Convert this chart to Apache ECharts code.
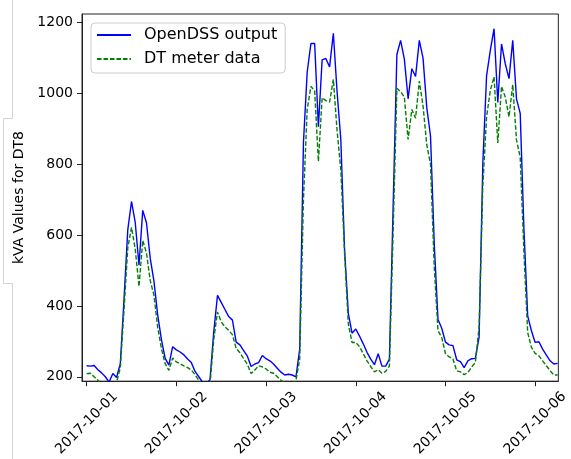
<!DOCTYPE html>
<html>
<head>
<meta charset="utf-8">
<script src="https://cdn.jsdelivr.net/npm/echarts@6/dist/echarts.min.js"></script>
<style>
html,body{margin:0;padding:0;background:#fff;}
#chart{width:571px;height:459px;}
</style>
</head>
<body>
<div id="chart"></div>
<script>
// Hourly samples starting 2017-10-01 00:00 (index = hours since start)
const openDSS = [
231,230,232,220,211,200,185,209,198,237,420,615,695,635,515,670,635,535,470,375,305,252,233,285,
276,270,262,250,240,215,200,185,180,192,326,430,410,390,370,360,298,290,274,258,229,236,240,260,
251,245,236,224,213,205,207,205,200,278,860,1060,1141,1141,906,1095,1099,1075,1170,1005,870,560,380,323,
335,315,293,269,250,234,265,230,230,250,680,1110,1150,1097,985,1070,1048,1150,1100,960,880,575,362,337,
298,290,288,248,243,226,245,251,252,312,803,1050,1122,1183,975,1140,1084,1042,1150,985,944,615,372,330,
297,299,278,261,245,236,238
];
const dtMeter = [
209,210,200,190,178,172,170,178,185,225,390,565,622,560,455,585,550,472,430,340,280,237,218,253,
242,237,231,226,219,206,190,175,172,178,305,383,355,341,331,319,280,268,251,235,209,219,231,228,
222,213,210,200,190,182,180,180,190,250,700,955,1020,1008,808,988,980,976,1040,895,785,550,350,297,
297,285,265,245,229,214,220,210,215,230,610,1015,1005,990,870,955,930,1035,965,855,800,510,330,311,
265,256,250,217,214,206,212,228,240,340,740,934,1009,1047,860,1020,990,934,1025,869,820,550,325,283,
266,259,245,231,217,205,205
];
const seriesNames = ['OpenDSS output', 'DT meter data'];
const xTickHours = [0, 24, 48, 72, 96, 120];
const xTickLabels = ['2017-10-01', '2017-10-02', '2017-10-03', '2017-10-04', '2017-10-05', '2017-10-06'];
const yTicks = [200, 400, 600, 800, 1000, 1200];
const yAxisTitle = 'kVA Values for DT8';

const FONT = 'DejaVu Sans';
const chart = echarts.init(document.getElementById('chart'), null, {renderer: 'canvas'});
chart.setOption({
  animation: false,
  backgroundColor: '#fff',
  graphic: [{
    type: 'polyline',
    shape: {points: [[12.5, 0], [12.5, 118.5], [3.5, 118.5], [3.5, 283.5], [12.5, 283.5], [12.5, 459]]},
    style: {stroke: '#d4d4d4', lineWidth: 1, fill: null},
    silent: true, z: 0
  }],
  grid: {left: 82, top: 14, right: 11, bottom: 76, show: true, borderColor: '#222', borderWidth: 1, containLabel: false},
  legend: {
    orient: 'vertical', left: 91, top: 23,
    padding: [4, 8, 6, 5],
    itemWidth: 34, itemHeight: 16, itemGap: 8,
    itemStyle: {opacity: 0},
    backgroundColor: 'rgba(255,255,255,0.8)', borderColor: '#cccccc', borderWidth: 1, borderRadius: 4,
    textStyle: {fontFamily: FONT, fontSize: 16, color: '#000', padding: [0, 0, 0, 8]},
    data: seriesNames
  },
  xAxis: {
    type: 'value', min: -1.25, max: 126.2,
    splitLine: {show: false},
    axisLine: {show: true, onZero: false, lineStyle: {color: '#222', width: 1}},
    axisTick: {show: true, length: 5, lineStyle: {color: '#222'}, customValues: xTickHours},
    axisLabel: {
      customValues: xTickHours, rotate: 45, align: 'center', verticalAlign: 'middle', margin: 42,
      fontFamily: FONT, fontSize: 14, color: '#000',
      formatter: v => xTickLabels[xTickHours.indexOf(v)] || ''
    }
  },
  yAxis: {
    type: 'value', min: 187.6, max: 1224.5,
    name: yAxisTitle, nameLocation: 'middle', nameGap: 52, nameRotate: 90,
    nameTextStyle: {fontFamily: FONT, fontSize: 14, color: '#000'},
    splitLine: {show: false},
    axisLine: {show: true, onZero: false, lineStyle: {color: '#222', width: 1}},
    axisTick: {show: true, length: 5, lineStyle: {color: '#222'}, customValues: yTicks},
    axisLabel: {customValues: yTicks, margin: 9, fontFamily: FONT, fontSize: 14, color: '#000',
      formatter: v => String(v)}
  },
  series: [
    {
      name: seriesNames[0], type: 'line', symbol: 'none', clip: true,
      lineStyle: {color: '#0000ff', width: 1.4},
      itemStyle: {color: '#0000ff'},
      data: openDSS.map((v, i) => [i, v]), z: 3
    },
    {
      name: seriesNames[1], type: 'line', symbol: 'none', clip: true,
      lineStyle: {color: '#008000', width: 1.4, type: [4.5, 2]},
      itemStyle: {color: '#008000'},
      data: dtMeter.map((v, i) => [i, v]), z: 4
    }
  ]
});
</script>
</body>
</html>
